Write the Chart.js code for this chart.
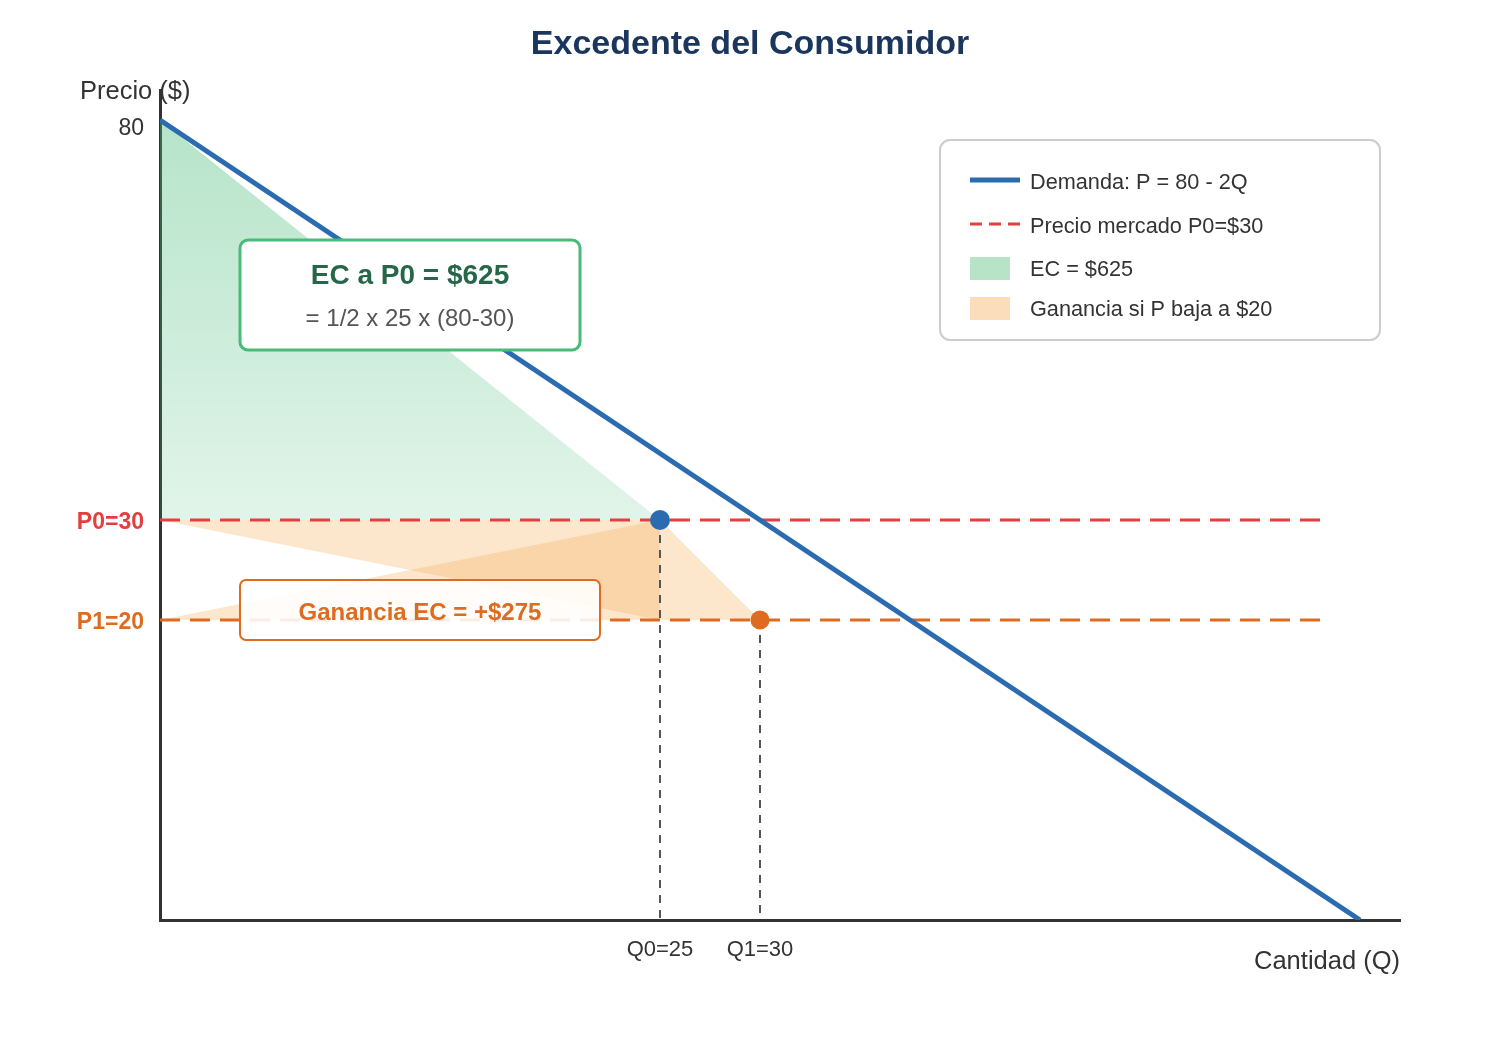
<!DOCTYPE html>
<html>
<head>
<meta charset="utf-8">
<title>Excedente del Consumidor</title>
<script src="https://cdn.jsdelivr.net/npm/chart.js@4.4.1/dist/chart.umd.min.js"></script>
<style>
  body { margin: 0; background: #fff; }
  canvas { display: block; }
</style>
</head>
<body>
<canvas id="chart" width="1500" height="1040"></canvas>
<script>
// Datos del gráfico
const demandaQ = [0, 60];
const demandaP = [80, 0];
const ecQ = [0, 25];
const ecP = [80, 30];
const precioP0 = 30;
const precioP1 = 20;
const Q0 = 25;
const Q1 = 30;
const lineaFinQ = 58;
const gananciaQ1 = [0, 25, 25];
const gananciaP1 = [30, 30, 20];
const gananciaQ2 = [0, 25, 30];
const gananciaP2 = [20, 30, 20];

const yTicks = [20, 30, 80];
const yTickLabels = ['P1=20', 'P0=30', '80'];
const xTicks = [25, 30];
const xTickLabels = ['Q0=25', 'Q1=30'];

const leyendaTextos = ['Demanda: P = 80 - 2Q', 'Precio mercado P0=$30', 'EC = $625', 'Ganancia si P baja a $20'];
const cajaEC = ['EC a P0 = $625', '= 1/2 x 25 x (80-30)'];
const cajaGanancia = 'Ganancia EC = +$275';

const FONT = "'Liberation Sans', Arial, sans-serif";
const AZUL = '#2b6cb0';
const ROJO = '#e53e3e';
const NARANJA = '#dd6b20';
const VERDE = '#48bb78';

// El eje de precios del dibujo no es lineal: se usa una escala por tramos
const tramoValores = [0, 20, 30, 80, 83.75];
const tramoFraccion = [0, 300, 400, 800, 830].map(v => v / 830);

class EscalaTramos extends Chart.LinearScale {
    getPixelForValue(value) {
        const v = Math.max(tramoValores[0], Math.min(value, tramoValores[tramoValores.length - 1]));
        let i = 1;
        while (i < tramoValores.length - 1 && v > tramoValores[i]) i++;
        const t = (v - tramoValores[i - 1]) / (tramoValores[i] - tramoValores[i - 1]);
        const dec = tramoFraccion[i - 1] + t * (tramoFraccion[i] - tramoFraccion[i - 1]);
        return this.getPixelForDecimal(dec);
    }
    getValueForPixel(pixel) {
        const dec = this.getDecimalForPixel(pixel);
        let i = 1;
        while (i < tramoFraccion.length - 1 && dec > tramoFraccion[i]) i++;
        const t = (dec - tramoFraccion[i - 1]) / (tramoFraccion[i] - tramoFraccion[i - 1]);
        return tramoValores[i - 1] + t * (tramoValores[i] - tramoValores[i - 1]);
    }
}
EscalaTramos.id = 'tramos';
EscalaTramos.defaults = Chart.LinearScale.defaults;
Chart.register(EscalaTramos);

function puntos(xs, ys) {
    return xs.map((x, i) => ({ x: x, y: ys[i] }));
}

// Textos extra, cajas de anotación y leyenda
const extras = {
    id: 'extras',
    afterDatasetsDraw(chart) {
        const ctx = chart.ctx;
        ctx.save();

        // caja EC
        ctx.beginPath();
        ctx.roundRect(240, 240, 340, 110, 8);
        ctx.fillStyle = '#ffffff';
        ctx.fill();
        ctx.lineWidth = 3;
        ctx.strokeStyle = VERDE;
        ctx.stroke();
        ctx.textAlign = 'center';
        ctx.textBaseline = 'middle';
        ctx.fillStyle = '#276749';
        ctx.font = 'bold 28px ' + FONT;
        ctx.fillText(cajaEC[0], 410, 276);
        ctx.fillStyle = '#555';
        ctx.font = '24px ' + FONT;
        ctx.fillText(cajaEC[1], 410, 319);

        // caja ganancia
        ctx.beginPath();
        ctx.roundRect(240, 580, 360, 60, 6);
        ctx.fillStyle = 'rgba(255,255,255,0.88)';
        ctx.fill();
        ctx.lineWidth = 2;
        ctx.strokeStyle = NARANJA;
        ctx.stroke();
        ctx.fillStyle = NARANJA;
        ctx.font = 'bold 24px ' + FONT;
        ctx.fillText(cajaGanancia, 420, 613);

        ctx.restore();
    },
    afterDraw(chart) {
        const ctx = chart.ctx;
        ctx.save();

        // título
        ctx.textAlign = 'center';
        ctx.textBaseline = 'middle';
        ctx.fillStyle = '#1a365d';
        ctx.font = 'bold 34px ' + FONT;
        ctx.fillText('Excedente del Consumidor', 750, 45);

        // títulos de ejes
        ctx.fillStyle = '#333';
        ctx.font = '25.5px ' + FONT;
        ctx.textAlign = 'left';
        ctx.fillText('Precio ($)', 80, 92);
        ctx.textAlign = 'right';
        ctx.fillText('Cantidad (Q)', 1400, 962);

        // leyenda
        ctx.beginPath();
        ctx.roundRect(940, 140, 440, 200, 10);
        ctx.fillStyle = '#fff';
        ctx.fill();
        ctx.lineWidth = 2;
        ctx.strokeStyle = '#ccc';
        ctx.stroke();

        ctx.lineWidth = 5;
        ctx.strokeStyle = AZUL;
        ctx.beginPath();
        ctx.moveTo(970, 180);
        ctx.lineTo(1020, 180);
        ctx.stroke();

        ctx.lineWidth = 3;
        ctx.strokeStyle = ROJO;
        ctx.setLineDash([12, 7]);
        ctx.beginPath();
        ctx.moveTo(970, 224);
        ctx.lineTo(1020, 224);
        ctx.stroke();
        ctx.setLineDash([]);

        ctx.fillStyle = '#b7e4c7';
        ctx.fillRect(970, 257, 40, 23);
        ctx.fillStyle = '#fbddbb';
        ctx.fillRect(970, 297, 40, 23);

        ctx.fillStyle = '#333';
        ctx.font = '21.7px ' + FONT;
        ctx.textAlign = 'left';
        const filas = [183, 227, 270, 310];
        leyendaTextos.forEach((t, i) => ctx.fillText(t, 1030, filas[i]));

        ctx.restore();
    }
};

const ctx = document.getElementById('chart').getContext('2d');
const chart = new Chart(ctx, {
    type: 'line',
    data: {
        datasets: [
            {
                label: 'Punto Q0',
                data: puntos([Q0], [precioP0]),
                showLine: false,
                pointRadius: 10,
                pointBackgroundColor: AZUL,
                pointBorderWidth: 0,
                order: 0
            },
            {
                label: 'Punto Q1',
                data: puntos([Q1], [precioP1]),
                showLine: false,
                pointRadius: 9.5,
                pointBackgroundColor: NARANJA,
                pointBorderWidth: 0,
                order: 0
            },
            {
                label: leyendaTextos[0],
                data: puntos(demandaQ, demandaP),
                borderColor: AZUL,
                borderWidth: 5,
                pointRadius: 0,
                fill: false,
                order: 1
            },
            {
                label: leyendaTextos[1],
                data: puntos([0, lineaFinQ], [precioP0, precioP0]),
                borderColor: ROJO,
                borderWidth: 3,
                borderDash: [20, 10],
                pointRadius: 0,
                fill: false,
                order: 2
            },
            {
                label: 'P1',
                data: puntos([0, lineaFinQ], [precioP1, precioP1]),
                borderColor: NARANJA,
                borderWidth: 3,
                borderDash: [20, 10],
                pointRadius: 0,
                fill: false,
                order: 2
            },
            {
                label: 'Q0',
                data: puntos([Q0, Q0], [precioP0, 0]),
                borderColor: '#555',
                borderWidth: 2,
                borderDash: [8, 7],
                pointRadius: 0,
                fill: false,
                order: 3
            },
            {
                label: 'Q1',
                data: puntos([Q1, Q1], [precioP1, 0]),
                borderColor: '#555',
                borderWidth: 2,
                borderDash: [8, 7],
                pointRadius: 0,
                fill: false,
                order: 3
            },
            {
                label: leyendaTextos[3],
                data: puntos(gananciaQ1, gananciaP1),
                borderWidth: 0,
                borderColor: 'rgba(0,0,0,0)',
                backgroundColor: 'rgba(246,173,85,0.3)',
                pointRadius: 0,
                fill: 'shape',
                order: 4
            },
            {
                label: 'Ganancia 2',
                data: puntos(gananciaQ2, gananciaP2),
                borderWidth: 0,
                borderColor: 'rgba(0,0,0,0)',
                backgroundColor: 'rgba(246,173,85,0.3)',
                pointRadius: 0,
                fill: 'shape',
                order: 4
            },
            {
                label: leyendaTextos[2],
                data: puntos(ecQ, ecP),
                borderWidth: 0,
                borderColor: 'rgba(0,0,0,0)',
                backgroundColor: function(context) {
                    const c = context.chart;
                    if (!c.chartArea) return 'rgba(72,187,120,0.3)';
                    const y = c.scales.y;
                    const g = c.ctx.createLinearGradient(0, y.getPixelForValue(80), 0, y.getPixelForValue(precioP0));
                    g.addColorStop(0, 'rgba(72,187,120,0.4)');
                    g.addColorStop(1, 'rgba(72,187,120,0.16)');
                    return g;
                },
                pointRadius: 0,
                fill: { value: precioP0 },
                order: 5
            }
        ]
    },
    options: {
        responsive: false,
        devicePixelRatio: 1,
        animation: false,
        layout: { padding: { left: 60, right: 100, top: 90, bottom: 0 } },
        plugins: {
            legend: { display: false },
            tooltip: { enabled: false },
            title: { display: false }
        },
        scales: {
            x: {
                type: 'linear',
                min: 0,
                max: 62,
                grid: { display: false, drawTicks: false },
                border: { display: true, color: '#333', width: 3 },
                afterBuildTicks: function(scale) {
                    scale.ticks = xTicks.map(v => ({ value: v }));
                },
                afterFit: function(scale) { scale.height = 120; },
                ticks: {
                    autoSkip: false,
                    maxRotation: 0,
                    padding: 17,
                    color: '#333',
                    font: { family: FONT, size: 22 },
                    callback: function(value) {
                        return xTickLabels[xTicks.indexOf(value)];
                    }
                }
            },
            y: {
                type: 'tramos',
                min: 0,
                max: 83.75,
                grid: { display: false, drawTicks: false },
                border: { display: true, color: '#333', width: 3 },
                afterBuildTicks: function(scale) {
                    scale.ticks = yTicks.map(v => ({ value: v }));
                },
                afterFit: function(scale) { scale.width = 100; },
                ticks: {
                    autoSkip: false,
                    padding: 16,
                    labelOffset: 3,
                    color: function(c) {
                        const v = c.tick && c.tick.value;
                        if (v === precioP0) return ROJO;
                        if (v === precioP1) return NARANJA;
                        return '#333';
                    },
                    font: function(c) {
                        const v = c.tick && c.tick.value;
                        const bold = v === precioP0 || v === precioP1;
                        // la etiqueta superior va un poco más abajo (línea vacía delante)
                        return { family: FONT, size: 23, weight: bold ? 'bold' : 'normal', lineHeight: v === 80 ? 0.45 : 1.2 };
                    },
                    callback: function(value) {
                        const t = yTickLabels[yTicks.indexOf(value)];
                        return value === 80 ? ['', t] : t;
                    }
                }
            }
        }
    },
    plugins: [extras]
});
</script>
</body>
</html>
